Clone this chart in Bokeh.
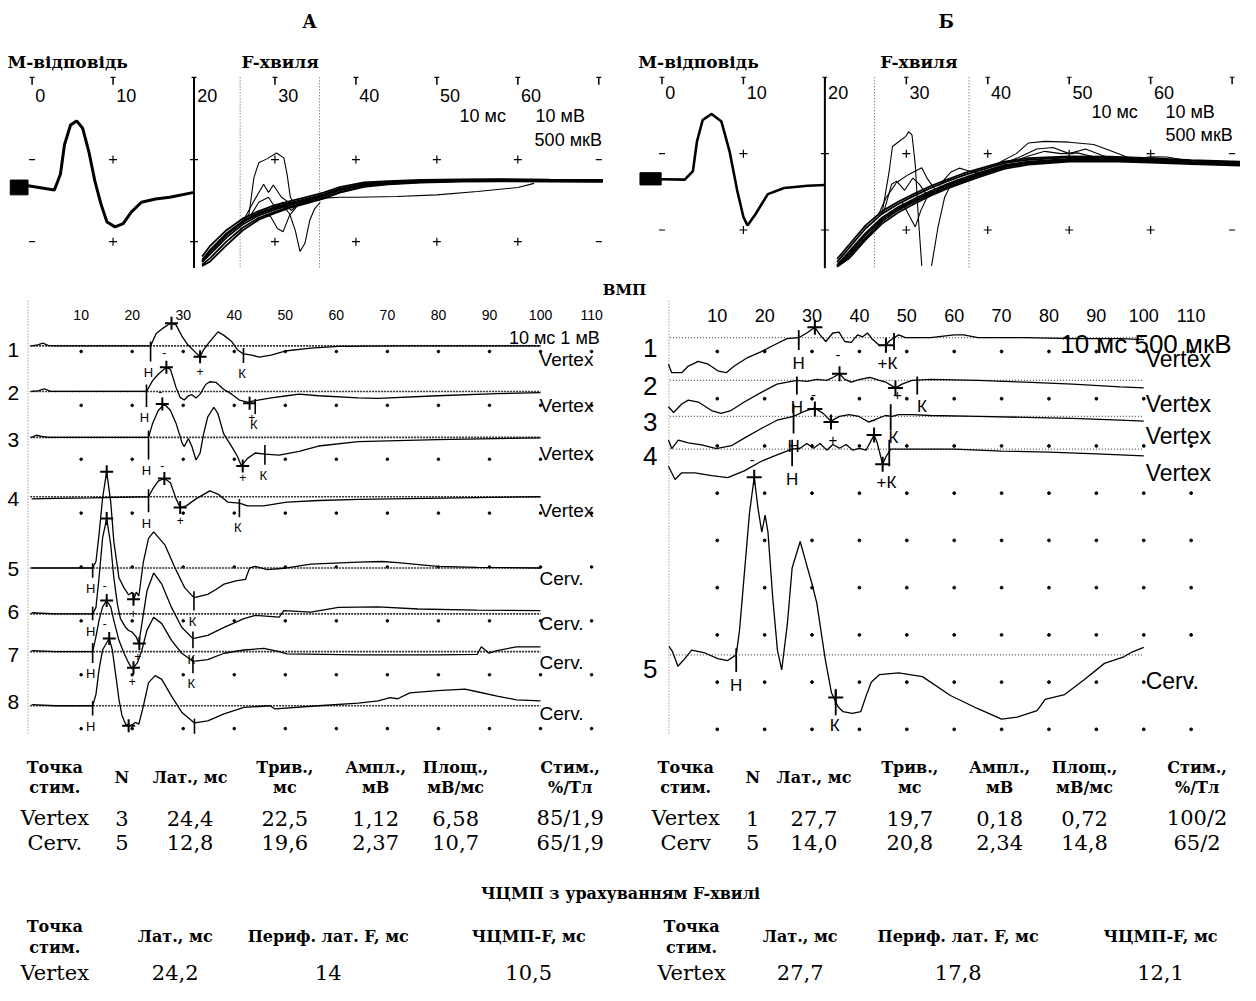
import math
from bokeh.plotting import figure
from bokeh.models import Range1d
from bokeh.core.properties import value
from bokeh.embed import file_html
from bokeh.resources import INLINE

NAN = float("nan")

# ------------------------------------------------------------------ data
# --- top panels: M-response (mV) and F-waves (uV), time in ms
M_T_A = [-0.5, 2.75, 3.5, 4.0, 4.75, 5.5, 6.25, 7.0, 7.75, 8.5, 9.25, 10.25, 11.25, 12.25, 13.5, 15.25, 17.0, 20.0]
M_V_A = [0.2, -0.3, 1.6, 5.2, 7.6, 8.1, 7.2, 4.4, 0.8, -2.0, -4.2, -4.8, -4.4, -3.0, -1.8, -1.4, -1.2, -0.6]

M_T_B = [-0.15, 2.8, 3.8, 4.3, 5.0, 6.1, 7.3, 8.3, 9.25, 10.0, 10.5, 11.5, 13.0, 15.0, 17.9, 20.0]
M_V_B = [0.04, 0.0, 1.1, 5.0, 7.8, 8.6, 7.6, 3.7, -1.5, -4.9, -6.0, -4.5, -1.9, -1.1, -0.8, -0.7]

F_T_A = [21.0, 22.0, 24.0, 26.0, 28.0, 30.0, 32.0, 34.0, 36.0, 38.0, 41.0, 44.0, 48.0, 53.0, 58.0, 64.0, 70.5]
F_A1 = [-470, -430, -330, -245, -185, -148, -115, -88, -62, -28, 8, 22, 32, 38, 40, 39, 37]
F_A2 = [-440, -380, -280, -205, -155, -120, -92, -68, -42, -8, 24, 34, 42, 46, 47, 45, 43]
F_A3 = [-478, -450, -352, -262, -196, -156, -122, -95, -68, -32, 3, 19, 29, 35, 37, 36, 34]
F_A4 = [-420, -355, -260, -190, -144, -108, -82, -57, -32, 2, 31, 39, 46, 49, 51, 48, 46]
F_A5 = [-455, -405, -305, -225, -170, -135, -104, -78, -52, -18, 15, 28, 36, 41, 43, 41, 39]
F_A6 = [-450, -392, -290, -212, -160, -126, -96, -72, -46, -12, 20, 32, 40, 44, 45, 43, 41]
F_A_BUNDLE = [F_A1, F_A2, F_A3, F_A4, F_A5, F_A6]
F_A_OUT = [
    ([26.0, 26.8, 27.4, 28.0, 29.0, 30.2, 31.1, 31.5, 31.9, 32.4], [-220, -160, 60, 150, 174, 210, 180, 80, -60, -100]),
    ([31.0, 31.8, 32.5, 33.1, 33.7, 34.3, 34.9, 35.6], [-110, -160, -260, -390, -340, -200, -130, -90]),
    ([26.0, 27.2, 28.6, 29.2, 29.8, 30.8, 32.0], [-210, -100, 20, -30, 15, -60, -100]),
    ([28.5, 29.5, 30.3, 31.0, 31.8, 32.8], [-150, -180, -250, -270, -170, -110]),
    ([27.0, 28.0, 29.2, 30.0, 31.0, 32.0, 33.0], [-170, -90, -60, -120, -90, -140, -100]),
    ([36.0, 38.0, 40.0, 45.0, 50.0, 55.0, 60.0, 62.0], [-65, -60, -60, -55, -45, -25, 0, 25]),
]

F_T_B = [21.5, 23.0, 25.0, 27.0, 29.0, 31.0, 33.0, 35.0, 37.0, 39.0, 42.0, 45.0, 50.0, 55.0, 60.0, 65.0, 71.0]
F_B1 = [-565, -500, -380, -275, -200, -145, -95, -50, -10, 28, 80, 105, 125, 126, 117, 108, 98]
F_B2 = [-540, -445, -320, -225, -160, -105, -55, -12, 28, 60, 108, 130, 145, 143, 133, 122, 112]
F_B3 = [-570, -515, -395, -290, -215, -158, -105, -60, -20, 18, 70, 98, 118, 120, 112, 102, 92]
F_B4 = [-520, -425, -300, -208, -145, -92, -42, 0, 40, 72, 118, 140, 152, 150, 140, 128, 118]
F_B5 = [-560, -470, -350, -250, -180, -125, -75, -30, 10, 45, 95, 118, 135, 135, 125, 115, 105]
F_B6 = [-568, -485, -362, -262, -190, -135, -85, -40, 0, 36, 88, 112, 130, 131, 121, 111, 101]
F_B_BUNDLE = [F_B1, F_B2, F_B3, F_B4, F_B5, F_B6]
F_B_OUT = [
    ([27.0, 27.9, 28.3, 29.1, 29.9, 30.3, 30.7, 31.1, 31.5, 31.9, NAN, 33.1, 33.9, 34.7, 35.5, 36.2],
     [-230, 56, 217, 249, 281, 314, 292, 98, -266, -565, NAN, -565, -309, -116, -30, 0]),
    ([26.5, 27.5, 28.8, 30.3, 31.9, 32.5, 33.6], [-240, -120, -19, 34, 77, 13, -71]),
    ([27.2, 28.2, 28.8, 29.8, 30.8, 31.6, 32.5], [-220, -30, -10, -70, 10, -30, -100]),
    ([29.5, 30.4, 31.1, 31.8, 32.6], [-150, -240, -310, -200, -110]),
    ([34.0, 35.5, 36.5, 37.5, 39.0], [-40, 50, 75, 60, 40]),
    ([41.0, 43.5, 45.0, 47.0, 50.0, 53.0, 55.0, 57.0, 59.0], [100, 170, 240, 250, 245, 230, 190, 150, 125]),
    ([42.0, 44.0, 46.0, 48.0, 50.0, 52.0, 54.0, 56.0], [105, 150, 200, 210, 170, 200, 160, 130]),
    ([43.0, 45.0, 47.0, 49.0, 51.0, 53.0, 55.0], [115, 155, 185, 170, 175, 150, 130]),
    ([57.0, 60.0, 62.0, 65.0], [125, 150, 148, 120]),
]
TOP_TICKS = [0, 10, 20, 30, 40, 50, 60]

# --- ВМП left (mV), time in ms
L1_T = [0.3, 1.5, 2.5, 3.5, 5, 23.6, 24.7, 25.9, 27.5, 28.6, 29.8, 30.9, 32.5, 33.3, 34.0, 35.2, 36.8, 37.9, 39.5, 40.6, 41.8, 43.4, 44.9, 47.2, 50.3, 55, 60.4, 72, 100]
L1_V = [0.0, 0.02, 0.05, 0.01, 0.0, 0.0, 0.23, 0.32, 0.42, 0.39, 0.17, 0.02, -0.13, -0.20, -0.07, 0.08, 0.26, 0.20, 0.08, -0.07, -0.15, -0.17, -0.21, -0.17, -0.09, -0.04, -0.01, 0.0, 0.0]
L2_T = [0.3, 1.5, 2.8, 4, 22.8, 24, 25.1, 26.7, 27.5, 28.6, 29.4, 30.2, 31, 31.7, 32.5, 33.3, 34.4, 35.2, 36.4, 37.9, 39.5, 41, 42.6, 44.1, 47.2, 50.3, 52.7, 56.5, 64.3, 68.2, 79.8, 91.5, 100]
L2_V = [0.0, 0.01, 0.05, 0.0, 0.0, 0.20, 0.32, 0.45, 0.41, 0.07, -0.11, -0.16, -0.08, -0.06, -0.12, -0.05, 0.13, 0.18, 0.17, 0.04, -0.05, -0.16, -0.20, -0.17, -0.12, -0.08, -0.05, -0.08, -0.12, -0.13, -0.08, -0.04, -0.02]
L3_T = [0.3, 1.2, 2.3, 3.5, 23.2, 24, 25.1, 26.3, 27.5, 28.6, 29.8, 30.2, 31, 31.7, 32.5, 33.3, 34, 34.8, 36, 36.8, 37.9, 39.5, 40.6, 41.4, 42.6, 44.1, 46, 48.8, 52.7, 56.5, 64.3, 79.8, 100]
L3_V = [0.0, 0.04, 0.02, 0.0, 0.0, 0.26, 0.50, 0.62, 0.50, 0.26, -0.11, -0.17, -0.02, -0.17, -0.42, -0.29, 0.07, 0.38, 0.56, 0.44, 0.07, -0.17, -0.35, -0.53, -0.39, -0.29, -0.31, -0.33, -0.26, -0.16, -0.08, -0.04, -0.01]
L4_T = [0.3, 5, 12, 23.2, 24, 25.1, 26.3, 27.5, 28.6, 29.4, 30.6, 32.5, 35.2, 36.8, 38.7, 41, 42.6, 45.7, 50.3, 56.5, 64.3, 100]
L4_V = [-0.04, -0.03, -0.02, 0.0, 0.14, 0.29, 0.34, 0.26, -0.04, -0.20, -0.17, -0.04, 0.11, 0.05, -0.10, -0.12, -0.17, -0.17, -0.10, -0.07, -0.05, 0.0]
L5_T = [0.3, 5, 12.25, 12.9, 13.5, 14.2, 15.0, 15.8, 16.4, 17.4, 18.4, 19.3, 20.0, 20.3, 20.8, 21.3, 22.2, 23.2, 24.2, 26.4, 28.4, 30.3, 32.1, 34.8, 36.4, 38, 40.3, 42.2, 43.0, 44.1, 46.5, 50.3, 55, 64.3, 69, 72, 79.8, 87.6, 100]
L5_V = [0.0, 0.0, 0.0, 0.12, 0.62, 1.30, 1.79, 1.22, 0.49, -0.18, -0.37, -0.50, -0.45, -0.58, -0.45, -0.52, 0.12, 0.55, 0.67, 0.43, 0.0, -0.37, -0.55, -0.49, -0.40, -0.30, -0.24, -0.21, 0.0, 0.03, -0.03, 0.0, 0.07, 0.11, 0.12, 0.10, 0.03, 0.01, 0.0]
L6_T = [0.3, 5, 12.25, 12.9, 13.5, 14.2, 15.0, 15.8, 16.4, 17.1, 17.7, 18.7, 19.3, 20.0, 20.8, 21.3, 21.9, 22.9, 24.2, 25.8, 27.7, 29.7, 31.9, 34.8, 38, 41.9, 44.1, 48.8, 49.7, 55, 60.4, 68.2, 76, 87.6, 100]
L6_V = [0.02, 0.0, 0.0, 0.12, 0.67, 1.41, 1.77, 1.28, 0.67, 0.18, -0.09, -0.25, -0.31, -0.34, -0.43, -0.55, -0.18, 0.43, 0.76, 0.55, 0.12, -0.25, -0.46, -0.40, -0.25, -0.09, -0.03, -0.06, 0.06, 0.03, 0.12, 0.13, 0.09, 0.07, 0.06]
L7_T = [0.3, 5, 12.25, 12.9, 13.5, 14.2, 15.0, 15.8, 16.4, 17.4, 18.4, 19.3, 20.0, 21.0, 21.9, 22.9, 24.2, 25.8, 27.7, 29.7, 31.9, 34.8, 38, 41.9, 45.8, 48.8, 50.3, 64.3, 79.8, 87.6, 88.4, 89.9, 91.5, 95.3, 100]
L7_V = [0.02, 0.0, 0.0, 0.28, 0.58, 0.83, 0.95, 0.83, 0.58, 0.21, -0.03, -0.21, -0.32, -0.21, 0.03, 0.40, 0.64, 0.52, 0.21, -0.03, -0.18, -0.15, -0.03, 0.03, 0.06, 0.0, -0.04, -0.06, -0.06, -0.05, 0.09, -0.03, 0.02, 0.09, 0.09]
L8_T = [0.3, 5, 12.25, 12.9, 13.5, 14.2, 15.5, 16.1, 16.8, 17.4, 18.0, 18.7, 19.7, 20.6, 21.3, 22.2, 23.2, 24.5, 25.8, 27.7, 29.7, 32.2, 34.8, 38, 41.9, 47, 48, 56.5, 64.3, 68.2, 70.5, 72, 74.4, 79.8, 85.2, 87.6, 91.5, 95.3, 100]
L8_V = [0.02, 0.0, 0.0, 0.21, 0.67, 1.04, 1.25, 1.04, 0.55, 0.12, -0.18, -0.34, -0.37, -0.31, -0.34, 0.0, 0.43, 0.56, 0.49, 0.18, -0.12, -0.32, -0.28, -0.15, -0.03, 0.0, -0.06, 0.0, 0.05, 0.09, 0.15, 0.13, 0.24, 0.28, 0.31, 0.26, 0.18, 0.11, 0.09]
L_TRACES = [(L1_T, L1_V), (L2_T, L2_V), (L3_T, L3_V), (L4_T, L4_V), (L5_T, L5_V), (L6_T, L6_V), (L7_T, L7_V), (L8_T, L8_V)]
L_SITE = ["Vertex", "Vertex", "Vertex", "Vertex", "Cerv.", "Cerv.", "Cerv.", "Cerv."]
L_H = [23.6, 22.8, 23.2, 23.2, 12.25, 12.25, 12.25, 12.25]
L_H_TOP = [0.08, 0.13, 0.13, 0.14, 0.09, 0.13, 0.16, 0.09]
L_H_BOT = [-0.29, -0.29, -0.41, -0.29, -0.18, -0.12, -0.21, -0.18]
L_K = [41.8, 44.1, 46.0, 41.0, 32.1, 31.9, 31.9, 32.2]
L_K_TOP = [-0.04, -0.14, -0.14, -0.04, -0.43, -0.33, -0.09, -0.24]
L_K_BOT = [-0.32, -0.42, -0.51, -0.38, -0.79, -0.64, -0.40, -0.52]
L_K_LETTER = [True, True, True, True, True, True, True, False]
L_PEAK_T = [27.7, 26.7, 25.9, 26.3, 15.0, 15.0, 15.0, 15.5]
L_PEAK_V = [0.42, 0.45, 0.62, 0.34, 1.79, 1.77, 0.95, 1.25]
L_MIN_T = [33.3, 43.0, 41.65, 29.4, 20.25, 21.4, 20.25, 19.3]
L_MIN_V = [-0.20, -0.22, -0.53, -0.20, -0.58, -0.55, -0.30, -0.37]
L_NEG_T = [26.3, 25.5, 25.9, None, 14.6, 14.6, None, None]
L_NEG_V = [-0.13, 0.0, -0.52, None, -0.33, -0.18, None, None]
L_POS_T = [33.3, 43.4, 41.65, 29.4, 20.2, 21.1, 20.0, None]
L_POS_V = [-0.47, -0.48, -0.75, -0.44, -0.85, -0.79, -0.55, None]
L_TICKS = [10, 20, 30, 40, 50, 60, 70, 80, 90, 100, 110]

# --- ВМП right (mV), time in ms
R1_T = [-0.3, 0.4, 2.5, 3.9, 6.0, 8.1, 10.1, 11.9, 13.6, 16.4, 19.2, 21.9, 24.7, 27.2, 28.9, 30.6, 31.7, 32.9, 34.4, 35.7, 36.9, 38.3, 39.6, 40.7, 41.7, 42.8, 44.2, 45.6, 46.2, 47.3, 48.3, 49.7, 55, 60, 62, 65, 75, 85, 95, 100]
R1_V = [-0.28, -0.37, -0.37, -0.30, -0.25, -0.28, -0.35, -0.37, -0.30, -0.21, -0.15, -0.08, -0.01, 0.0, 0.05, 0.11, 0.03, -0.04, 0.05, 0.06, -0.04, -0.05, 0.03, 0.01, 0.05, -0.02, -0.08, -0.08, -0.04, 0.0, 0.03, 0.0, 0.0, 0.03, 0.03, 0.0, 0.0, -0.01, -0.01, -0.02]
R2_T = [-0.3, 0.8, 2.5, 3.9, 6.0, 8.8, 10.8, 12.9, 15.7, 19.2, 22.6, 26.8, 29.0, 31.0, 33.1, 34.4, 35.8, 36.9, 38.3, 40.1, 42.2, 44.2, 45.6, 47.6, 49.0, 51.1, 55, 65, 75, 85, 95, 100]
R2_V = [-0.28, -0.34, -0.25, -0.21, -0.23, -0.32, -0.35, -0.32, -0.23, -0.13, -0.04, 0.0, -0.01, 0.01, 0.0, 0.03, 0.07, 0.01, -0.02, 0.01, 0.03, 0.0, -0.02, -0.08, -0.04, 0.0, 0.01, 0.0, -0.02, -0.04, -0.07, -0.08]
R3_T = [-0.3, 0.4, 1.8, 3.9, 6.7, 9.8, 13.0, 15.7, 19.2, 22.6, 26.1, 28.2, 30.6, 32.4, 34.0, 35.8, 37.8, 39.9, 42.0, 43.4, 45.5, 46.9, 48.3, 51.1, 55, 65, 75, 85, 95, 100]
R3_V = [-0.25, -0.34, -0.25, -0.28, -0.30, -0.34, -0.31, -0.23, -0.13, -0.04, 0.0, 0.05, 0.09, 0.03, -0.05, 0.0, 0.02, 0.0, -0.06, -0.03, 0.01, 0.0, 0.02, 0.02, 0.01, 0.0, -0.01, -0.02, -0.04, -0.05]
R4_T = [-0.3, 1.1, 2.5, 5.3, 8.8, 12.2, 15.7, 19.2, 22.6, 25.8, 27.5, 28.9, 30.3, 31.7, 33.1, 34.4, 35.8, 37.2, 38.6, 40.0, 41.4, 43.1, 43.8, 44.9, 45.6, 46.6, 48.3, 50, 60, 70, 80, 90, 100]
R4_V = [-0.18, -0.32, -0.25, -0.25, -0.28, -0.30, -0.23, -0.13, -0.06, 0.0, 0.01, 0.06, 0.01, 0.06, -0.01, 0.05, 0.01, 0.05, -0.01, 0.01, -0.01, 0.15, 0.06, -0.16, -0.08, 0.0, 0.0, 0.0, 0.0, -0.02, -0.03, -0.05, -0.07]
R5_T = [-0.2, 0.5, 1.7, 2.8, 4.6, 7.4, 10.1, 12.2, 14.0, 14.7, 15.7, 16.8, 17.8, 18.6, 19.4, 20.1, 20.7, 21.7, 22.7, 23.6, 24.8, 25.8, 27.5, 28.6, 30.0, 31.0, 32.8, 34.1, 35.5, 36.5, 38.5, 40.3, 41.3, 42.5, 44.2, 48.3, 53.3, 59.2, 65, 70, 73.3, 77.5, 79.2, 83.3, 87.5, 91.7, 95.8, 97.5, 100]
R5_V = [0.09, 0.04, -0.12, -0.06, 0.05, 0.02, -0.04, -0.06, 0.0, 0.26, 0.85, 1.50, 1.88, 1.55, 1.30, 1.48, 1.30, 0.61, 0.05, -0.16, 0.33, 0.92, 1.20, 1.0, 0.75, 0.55, -0.05, -0.40, -0.55, -0.60, -0.62, -0.60, -0.45, -0.29, -0.21, -0.19, -0.23, -0.43, -0.57, -0.68, -0.66, -0.59, -0.47, -0.42, -0.26, -0.09, -0.02, 0.03, 0.08]
R_TRACES = [(R1_T, R1_V), (R2_T, R2_V), (R3_T, R3_V), (R4_T, R4_V), (R5_T, R5_V)]
R_SITE = ["Vertex", "Vertex", "Vertex", "Vertex", "Cerv."]
R_H = [27.2, 26.8, 26.1, 25.8, 14.0]
R_H_TOP = [0.08, 0.04, 0.13, 0.10, 0.07]
R_H_BOT = [-0.13, -0.15, -0.18, -0.18, -0.18]
R_K = [47.3, 52.2, 46.6, 46.3, 35.0]
R_K_TOP = [0.05, 0.04, 0.13, 0.10, -0.36]
R_K_BOT = [-0.13, -0.15, -0.15, -0.18, -0.64]
R_PEAK_T = [30.6, 35.8, 30.6, 43.1, 17.8]
R_PEAK_V = [0.11, 0.07, 0.08, 0.15, 1.88]
R_MIN_T = [45.6, 47.6, 34.0, 44.9, 35.0]
R_MIN_V = [-0.08, -0.08, -0.06, -0.16, -0.45]
R_K_TEXT = ["+К", "К", "К", "+К", "К"]
R_K_TEXT_T = [45.9, 53.2, 47.2, 45.7, 34.8]
R_K_TEXT_V = [-0.27, -0.28, -0.22, -0.35, -0.75]
R_SIGN = [("-", 35.5, -0.18, 0), ("-", 30.3, -0.15, 1), ("+", 48.0, -0.16, 1), ("+", 34.4, -0.25, 2),
          ("-", 42.8, -0.04, 2), ("-", 17.4, -0.11, 3)]
R_TICKS = [10, 20, 30, 40, 50, 60, 70, 80, 90, 100, 110]

# --- tables
TAB1_HEAD = [("Точка", "стим."), ("N",), ("Лат., мс",), ("Трив.,", "мс"), ("Ампл.,", "мВ"), ("Площ.,", "мВ/мс"), ("Стим.,", "%/Тл")]
TAB1_LEFT = [["Vertex", "3", "24,4", "22,5", "1,12", "6,58", "85/1,9"],
             ["Cerv.", "5", "12,8", "19,6", "2,37", "10,7", "65/1,9"]]
TAB1_RIGHT = [["Vertex", "1", "27,7", "19,7", "0,18", "0,72", "100/2"],
              ["Cerv", "5", "14,0", "20,8", "2,34", "14,8", "65/2"]]
TAB2_HEAD = [("Точка", "стим."), ("Лат., мс",), ("Периф. лат. F, мс",), ("ЧЦМП-F, мс",)]
TAB2_LEFT = ["Vertex", "24,2", "14", "10,5"]
TAB2_RIGHT = ["Vertex", "27,7", "17,8", "12,1"]

# ------------------------------------------------------------------ layout constants
# the figure shows the reference canvas (1256 x 1001) scaled into 1240 x 985
W, H = 1240, 985
X0, Y0 = 0, 0
X1, Y1 = 1256, 1001
SERIF = "DejaVu Serif"
SANS = "Liberation Sans"


def xr(px0, k):
    return Range1d(start=(X0 - px0) / k, end=(X1 - px0) / k)


def yr(py0, k):
    return Range1d(start=(py0 - Y1) / k, end=(py0 - Y0) / k)


L_BASE = [351, 397.3, 444, 504.3, 576.7, 623.3, 661.7, 716.7]
R_BASE = [342.7, 386, 422.7, 456, 665]
L_K_PX = 54.7
R_K_PX = 96.0

p = figure(width=W, height=H, x_range=Range1d(X0, X1), y_range=Range1d(Y1, Y0),
           output_backend="svg", toolbar_location=None, min_border=0,
           x_axis_location=None, y_axis_location=None)
p.xgrid.visible = False
p.ygrid.visible = False
p.outline_line_color = None
p.background_fill_color = "white"
p.border_fill_color = "white"

xranges = {"A": xr(32, 8.2), "B": xr(670, 8.25), "L": xr(30, 5.17), "R": xr(678, 4.8)}
yranges = {"AM": yr(190, 8.35), "AF": yr(190, 83.5 / 500), "BM": yr(182, 7.76), "BF": yr(182, 77.6 / 500)}
for i, b in enumerate(L_BASE):
    yranges[f"L{i+1}"] = yr(b, L_K_PX)
for i, b in enumerate(R_BASE):
    yranges[f"R{i+1}"] = yr(b, R_K_PX)
p.extra_x_ranges = xranges
p.extra_y_ranges = yranges


def T(xs, ys, texts, size, font=SANS, bold=False, align="center", baseline="middle", xn="default", yn="default"):
    p.text(x=list(xs), y=list(ys), text=list(texts), text_font=value(font), text_font_size=f"{size}px",
           text_font_style="bold" if bold else "normal", text_align=align, text_baseline=baseline,
           text_color="black", x_range_name=xn, y_range_name=yn)


def line(t, v, xn, yn, w=1.3, color="black", dash="solid"):
    n = min(len(t), len(v))
    p.line(list(t[:n]), list(v[:n]), x_range_name=xn, y_range_name=yn, line_width=w,
           line_color=color, line_dash=dash)


# ------------------------------------------------------------------ top panels
def top_panel(xn, mn, fn, m_t, m_v, f_t, bundle, outs, win, bottom_v, stim, m_w, label_px):
    xs = [t for t in range(10, 70, 10) for _ in (0, 1)]
    ys = [v for _ in range(10, 70, 10) for v in (3.4, -6.6)]
    p.scatter(xs, ys, marker="cross", size=8, line_width=1.2, color="black", x_range_name=xn, y_range_name=mn)
    p.scatter([0, 0, 70, 70], [3.4, -6.6, 3.4, -6.6], marker="dash", size=6, line_width=1.2, color="black",
              x_range_name=xn, y_range_name=mn)
    tk = list(range(0, 80, 10))
    p.segment(tk, [13.4] * 8, tk, [12.5] * 8, line_width=1.5, color="black", x_range_name=xn, y_range_name=mn)
    p.segment([t - 0.3 for t in tk], [13.4] * 8, [t + 0.3 for t in tk], [13.4] * 8, line_width=1.2,
              color="black", x_range_name=xn, y_range_name=mn)
    p.segment([20], [13.4], [20], [bottom_v], line_width=2, color="black", x_range_name=xn, y_range_name=mn)
    p.segment(win, [13.4, 13.4], win, [bottom_v, bottom_v], line_width=1, color="#555555",
              line_dash="1 2", x_range_name=xn, y_range_name=mn)
    p.quad(left=[stim[0]], right=[stim[1]], bottom=[stim[2]], top=[stim[3]], color="black",
           x_range_name=xn, y_range_name=mn)
    line(m_t, m_v, xn, mn, w=m_w)
    for b in bundle:
        line(f_t, b, xn, fn, w=1.8)
    for ot, ov in outs:
        line(ot, ov, xn, fn, w=1.1)
    T([t + 0.4 for t in TOP_TICKS], [label_px] * len(TOP_TICKS), [str(t) for t in TOP_TICKS], 18,
      font=SANS, align="left", xn=xn)


top_panel("A", "AM", "AF", M_T_A, M_V_A, F_T_A, F_A_BUNDLE, F_A_OUT, [25.7, 35.5], -9.8,
          (-2.7, -0.5, -0.9, 0.9), 3.0, 97)
top_panel("B", "BM", "BF", M_T_B, M_V_B, F_T_B, F_B_BUNDLE, F_B_OUT, [26.1, 37.7], -11.6,
          (-2.7, -0.1, -0.7, 0.9), 2.6, 94)

T([313, 958], [21, 21], ["А", "Б"], 18, font=SERIF, bold=True)
T([7, 244, 646, 891], [62, 62, 62, 62], ["М-відповідь", "F-хвиля", "М-відповідь", "F-хвиля"], 17,
  font=SERIF, bold=True, align="left")
T([465, 542, 541], [117, 117, 142], ["10 мс", "10 мВ", "500 мкВ"], 18, font=SANS, align="left")
T([1105, 1180, 1180], [113, 113, 137], ["10 мс", "10 мВ", "500 мкВ"], 18, font=SANS, align="left")
T([632], [294], ["ВМП"], 15, font=SERIF, bold=True)

# ------------------------------------------------------------------ ВМП left
p.segment([-0.4], [305], [-0.4], [746], x_range_name="L", line_width=1, color="#777777", line_dash="1 2")
gx = [t for t in L_TICKS for _ in range(8)]
gy = [356.7 + 54.75 * k for _ in L_TICKS for k in range(8)]
p.scatter(gx, gy, marker="circle", size=2.6, color="black", x_range_name="L")
T(L_TICKS, [320] * len(L_TICKS), [str(t) for t in L_TICKS], 14, font=SANS, xn="L")
T([607], [343], ["10 мс 1 мВ"], 18, font=SANS, align="right")
T([13] * 8, [355, 399, 447, 507, 578, 621, 665, 713], [str(i + 1) for i in range(8)], 21, font=SANS)
T([546] * 8, [365, 412, 460, 518, 587, 633, 673, 725], L_SITE, 19, font=SANS, align="left")
for i, (tt, vv) in enumerate(L_TRACES):
    yn = f"L{i+1}"
    p.segment([0], [0], [100], [0], x_range_name="L", y_range_name=yn, line_width=1.6, color="#333333",
              line_dash="2 1")
    line(tt, vv, "L", yn, w=1.3)
    p.segment([L_H[i], L_K[i]], [L_H_TOP[i], L_K_TOP[i]], [L_H[i], L_K[i]], [L_H_BOT[i], L_K_BOT[i]],
              x_range_name="L", y_range_name=yn, line_width=1.6, color="black")
    p.scatter([L_PEAK_T[i], L_MIN_T[i]], [L_PEAK_V[i], L_MIN_V[i]], marker="cross", size=13, line_width=2,
              color="black", x_range_name="L", y_range_name=yn)
    T([L_H[i] - 0.4], [L_H_BOT[i] - 0.2], ["Н"], 13, xn="L", yn=yn)
    if L_K_LETTER[i]:
        T([L_K[i] - 0.3], [L_K_BOT[i] - 0.2], ["К"], 13, xn="L", yn=yn)
    if L_NEG_T[i] is not None:
        T([L_NEG_T[i]], [L_NEG_V[i]], ["-"], 12, xn="L", yn=yn)
    if L_POS_T[i] is not None:
        T([L_POS_T[i]], [L_POS_V[i]], ["+"], 12, xn="L", yn=yn)

# ------------------------------------------------------------------ ВМП right
p.segment([-0.2], [305], [-0.2], [746], x_range_name="R", line_width=1, color="#777777", line_dash="1 2")
gx = [t for t in R_TICKS for _ in range(9)]
gy = [356.7 + 48 * k for _ in R_TICKS for k in range(9)]
p.scatter(gx, gy, marker="circle", size=2.8, color="black", x_range_name="R")
T(R_TICKS, [320] * len(R_TICKS), [str(t) for t in R_TICKS], 18, font=SANS, xn="R")
T([658] * 5, [353, 392, 428, 463, 679], [str(i + 1) for i in range(5)], 26, font=SANS)
for i, (tt, vv) in enumerate(R_TRACES):
    yn = f"R{i+1}"
    p.segment([0], [0], [100], [0], x_range_name="R", y_range_name=yn, line_width=1.3, color="#555555",
              line_dash="1 2")
    line(tt, vv, "R", yn, w=1.3)
    p.segment([R_H[i], R_K[i]], [R_H_TOP[i], R_K_TOP[i]], [R_H[i], R_K[i]], [R_H_BOT[i], R_K_BOT[i]],
              x_range_name="R", y_range_name=yn, line_width=1.8, color="black")
    p.scatter([R_PEAK_T[i], R_MIN_T[i]], [R_PEAK_V[i], R_MIN_V[i]], marker="cross", size=15, line_width=2,
              color="black", x_range_name="R", y_range_name=yn)
    T([R_H[i]], [R_H_BOT[i] - 0.14], ["Н"], 17, xn="R", yn=yn)
    T([R_K_TEXT_T[i]], [R_K_TEXT_V[i]], [R_K_TEXT[i]], 17, xn="R", yn=yn)
for s, st, sv, k in R_SIGN:
    T([st], [sv], [s], 15, xn="R", yn=f"R{k+1}")
T([1160] * 5, [364, 410, 443, 480, 692], R_SITE, 23, font=SANS, align="left")
T([1247], [349], ["10 мс 500 мкВ"], 26, font=SANS, align="right")

# ------------------------------------------------------------------ tables
C1_L = [55, 123, 192, 288, 380, 461, 577]
C1_R = [694, 762, 824, 921, 1012, 1098, 1212]
for cols, rows in ((C1_L, TAB1_LEFT), (C1_R, TAB1_RIGHT)):
    for c, hd in zip(cols, TAB1_HEAD):
        if len(hd) == 2:
            T([c, c], [779, 800], list(hd), 16, font=SERIF, bold=True)
        else:
            T([c], [790], list(hd), 16, font=SERIF, bold=True)
    for r, y in zip(rows, (831, 856)):
        T(cols, [y] * len(cols), r, 21, font=SERIF)

T([628], [907], ["ЧЦМП з урахуванням F-хвилі"], 16, font=SERIF, bold=True)
C2_L = [55, 177, 332, 535]
C2_R = [700, 810, 970, 1175]
for cols, row in ((C2_L, TAB2_LEFT), (C2_R, TAB2_RIGHT)):
    for c, hd in zip(cols, TAB2_HEAD):
        if len(hd) == 2:
            T([c, c], [941, 962], list(hd), 16, font=SERIF, bold=True)
        else:
            T([c], [951], list(hd), 16, font=SERIF, bold=True)
    T(cols, [988] * len(cols), row, 21, font=SERIF)

open("out.html", "w").write(file_html(p, INLINE))
